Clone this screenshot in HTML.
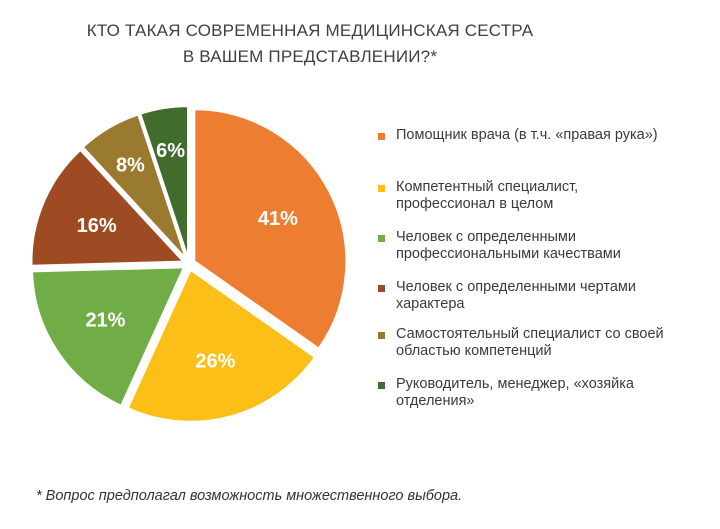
<!DOCTYPE html>
<html><head><meta charset="utf-8"><style>
body{margin:0;background:#fff;font-family:"Liberation Sans",sans-serif;}
#wrap{position:relative;width:720px;height:529px;overflow:hidden;}
.t{position:absolute;color:#444;}
</style></head><body>
<div id="wrap">
<div class="t" style="left:0;width:620px;top:18px;text-align:center;font-size:17px;line-height:26px;color:#404040;letter-spacing:0.2px">КТО ТАКАЯ СОВРЕМЕННАЯ МЕДИЦИНСКАЯ СЕСТРА<br>В ВАШЕМ ПРЕДСТАВЛЕНИИ?*</div>
<svg id="pie" width="720" height="529" style="position:absolute;left:0;top:0"></svg>
<div id="legend"></div>
<div class="t" style="left:36px;top:488px;font-size:14.5px;font-style:italic;color:#333">* Вопрос предполагал возможность множественного выбора.</div>
</div>
<script>
const categories=["Помощник врача (в т.ч. «правая рука»)","Компетентный специалист, профессионал в целом","Человек с определенными профессиональными качествами","Человек с определенными чертами характера","Самостоятельный специалист со своей областью компетенций","Руководитель, менеджер, «хозяйка отделения»"];
const legendLines=[["Помощник врача (в т.ч. «правая рука»)"],["Компетентный специалист,","профессионал в целом"],["Человек с определенными","профессиональными качествами"],["Человек с определенными чертами","характера"],["Самостоятельный специалист со своей","областью компетенций"],["Руководитель, менеджер, «хозяйка","отделения»"]];
const values=[41,26,21,16,8,6];
const labels=["41%","26%","21%","16%","8%","6%"];
const colors=["#ed7d31","#fbbf17","#70ad47","#9e4a22","#9a7a2e","#426b2e"];
const svg=document.getElementById('pie');
const NS="http://www.w3.org/2000/svg";
const cx=189,cy=264,R=152,gap=6;
const total=values.reduce((a,b)=>a+b,0);
function pt(a,r,ox,oy){return [ox+r*Math.sin(a),oy-r*Math.cos(a)];}
let a0=0;
values.forEach((v,i)=>{
  const a1=a0+v/total*2*Math.PI, m=(a0+a1)/2;
  const ox=cx+gap*Math.sin(m), oy=cy-gap*Math.cos(m);
  const p0=pt(a0,R,ox,oy), p1=pt(a1,R,ox,oy);
  const path=document.createElementNS(NS,'path');
  path.setAttribute('d',`M${ox},${oy}L${p0[0]},${p0[1]}A${R},${R} 0 ${a1-a0>Math.PI?1:0} 1 ${p1[0]},${p1[1]}Z`);
  path.setAttribute('fill',colors[i]);
  path.setAttribute('stroke','#fff');
  path.setAttribute('stroke-width','2');
  
  
  svg.appendChild(path);
  const lp=pt(m,R*(v<10?0.72:0.62),ox,oy);
  const t=document.createElementNS(NS,'text');
  t.setAttribute('x',lp[0]);t.setAttribute('y',lp[1]+7);
  t.setAttribute('text-anchor','middle');t.setAttribute('fill','#fff');
  t.setAttribute('font-size','20');t.setAttribute('font-weight','bold');
  t.setAttribute('font-family','Liberation Sans, sans-serif');
  t.textContent=labels[i];
  
  
  svg.appendChild(t);
  a0=a1;
});
const lg=document.getElementById('legend');
const tops=[128,180,230,280,327,377];
categories.forEach((c,i)=>{
  const row=document.createElement('div');
  
  
  row.style.cssText=`position:absolute;left:378px;top:${tops[i]}px;`;
  const sw=document.createElement('div');
  
  
  sw.style.cssText=`position:absolute;left:0;top:5px;width:7px;height:7px;background:${colors[i]}`;
  const tx=document.createElement('div');
  
  
  tx.style.cssText='position:absolute;left:18px;top:-1px;white-space:nowrap;font-size:14.5px;line-height:17px;color:#3a3a3a';
  tx.innerHTML=legendLines[i].join('<br>');
  row.appendChild(sw);row.appendChild(tx);lg.appendChild(row);
});
</script>
</body></html>
